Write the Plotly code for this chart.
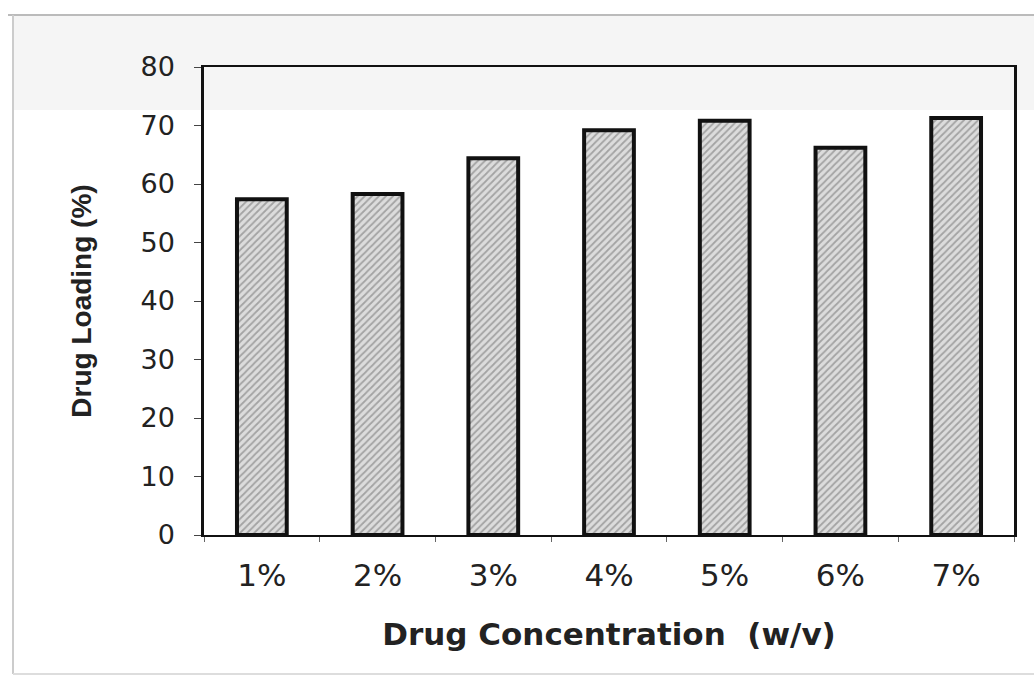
import plotly.graph_objects as go

categories = ["1%", "2%", "3%", "4%", "5%", "6%", "7%"]
drug_loading = [57.4, 58.3, 64.4, 69.2, 70.8, 66.2, 71.3]
y_ticks = [0, 10, 20, 30, 40, 50, 60, 70, 80]

W, H = 1034, 679
L, R, T, B = 204, 20, 67, 144

fig = go.Figure()
fig.add_trace(go.Bar(
    x=categories, y=drug_loading, width=0.43,
    marker=dict(
        color="#d9d9d9",
        line=dict(color="#111111", width=4),
        pattern=dict(shape="/", fgcolor="#6a6a6a", bgcolor="#dcdcdc", size=5, solidity=0.35),
    ),
    showlegend=False,
))

def px_x(p):
    return (p - L) / (W - L - R)

def px_y(p):
    return (H - B - p) / (H - T - B)

fig.update_layout(
    width=W, height=H,
    margin=dict(l=L, r=R, t=T, b=B),
    paper_bgcolor="white", plot_bgcolor="rgba(0,0,0,0)",
    xaxis=dict(
        tickfont=dict(family="DejaVu Sans", size=31, color="#222222"),
        ticks="outside", ticklen=5, tickcolor="#666",
        tickson="boundaries", showline=True, linecolor="#111", linewidth=2, mirror=True,
        ticklabelstandoff=12,
        title=dict(text="<b>Drug Concentration  (w/v)</b>",
                   font=dict(family="DejaVu Sans", size=31, color="#222"), standoff=31),
    ),
    yaxis=dict(
        range=[0, 80], tickvals=y_ticks,
        tickfont=dict(family="DejaVu Sans", size=27, color="#222222"),
        ticks="outside", ticklen=7, ticklabelstandoff=14,
        tickcolor="#444", showline=True, linecolor="#111", linewidth=2.5, mirror=True,
        showgrid=False, zeroline=False,
        title=dict(text="<b>Drug Loading (%)</b>",
                   font=dict(family="Liberation Sans", size=28, color="#222"),
                   standoff=41),
    ),
    shapes=[
        dict(type="rect", xref="paper", yref="paper", x0=px_x(13), x1=px_x(1034), y0=px_y(110), y1=px_y(15),
             fillcolor="#f5f5f5", line_width=0, layer="below"),
        dict(type="line", xref="paper", yref="paper", x0=px_x(8), x1=px_x(1034), y0=px_y(15), y1=px_y(15),
             line=dict(color="#bbbbbb", width=2)),
        dict(type="line", xref="paper", yref="paper", x0=px_x(13), x1=px_x(13), y0=px_y(15), y1=px_y(674),
             line=dict(color="#cccccc", width=2)),
        dict(type="line", xref="paper", yref="paper", x0=px_x(13), x1=px_x(1034), y0=px_y(674), y1=px_y(674),
             line=dict(color="#dddddd", width=2)),
    ],
)
fig.write_html("out.html")
